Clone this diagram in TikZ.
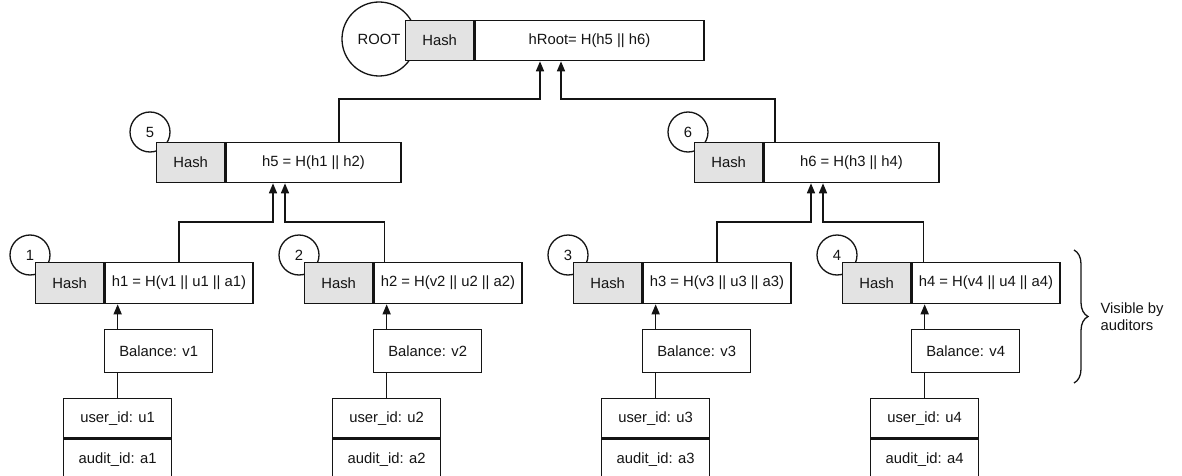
\documentclass[tikz,border=0pt]{standalone}
\usepackage{fontspec}
\setmainfont{Liberation Sans}
\usetikzlibrary{arrows.meta,decorations.pathreplacing}
\definecolor{lc}{HTML}{141414}
\definecolor{hashgray}{HTML}{E3E3E3}
\begin{document}
\begin{tikzpicture}[x=1pt,y=-1pt,
  every node/.style={font=\fontsize{14.8pt}{17pt}\selectfont, text=lc},
  box/.style={draw=lc, line width=1.3pt, fill=white, inner sep=0pt, minimum height=40pt, anchor=north west},
  hashbox/.style={box, fill=hashgray, minimum width=68pt},
  circ/.style={circle, draw=lc, fill=white, line width=1.3pt, minimum size=40pt, inner sep=0pt},
  arr/.style={draw=lc, line width=1.5pt, -{Triangle[width=8pt,length=10pt]}},
  conn/.style={draw=lc, line width=1.5pt},
  brc/.style={draw=lc, line width=1.3pt, decorate, decoration={brace, amplitude=14pt}}]
\useasboundingbox (0,0) rectangle (1182,476);
% root
\node[circ, minimum size=74pt] (rc) at (379,39) {ROOT};
\node[hashbox] (rh) at (405,20) {Hash};
\node[box, minimum width=229pt] (rm) at (rh.north east) {hRoot= H(h5 || h6)};
% level 2
\node[circ] (c5) at (150,132) {5};
\node[hashbox] (h5) at (156,142) {Hash};
\node[box, minimum width=175pt] (n5m) at (h5.north east) {h5 = H(h1 || h2)};
\node[circ] (c6) at (688,132) {6};
\node[hashbox] (h6) at (694,142) {Hash};
\node[box, minimum width=175pt] (n6m) at (h6.north east) {h6 = H(h3 || h4)};
% leaves
\foreach \i/\L in {1/35,2/304,3/573,4/842}{
  \node[circ] (c\i) at (\L-5,255) {\i};
  \node[hashbox, minimum height=41pt] (h\i) at (\L,262) {Hash};
  \node[box, minimum width=148pt, minimum height=41pt] (m\i) at (h\i.north east) {h\i{} = H(v\i{} || u\i{} || a\i)};
  \node[box, minimum width=108pt, minimum height=43pt] (b\i) at (\L+69,329) {Balance: v\i};
  \node[box, minimum width=108pt, minimum height=39pt] (u\i) at (\L+28,398) {user\_id: u\i};
  \node[box, minimum width=108pt, minimum height=42pt] (a\i) at (u\i.south west) {audit\_id: a\i};
  \draw[conn] (u\i.north) -- (u\i.north |- b\i.south);
  \draw[arr] (u\i.north |- b\i.north) -- (u\i.north |- m\i.south);
}
% connectors
\draw[arr] (m1.north) -- ++(0,-40) -| (273,0 |- n5m.south);
\draw[arr] ([xshift=11pt]m2.north west) -- ++(0,-40) -| (285,0 |- n5m.south);
\draw[arr] (m3.north) -- ++(0,-40) -| (811,0 |- n6m.south);
\draw[arr] ([xshift=12pt]m4.north west) -- ++(0,-40) -| (823,0 |- n6m.south);
\draw[arr] (339,0 |- n5m.north) -- ++(0,-43) -| (540,0 |- rm.south);
\draw[arr] (775,0 |- n6m.north) -- ++(0,-43) -| (561,0 |- rm.south);
% brace
\coordinate (bt) at (1074,250);
\coordinate (bb) at (1074,383);
\draw[brc] (bt) -- (bb);
\node[anchor=west, align=left] (vis) at (1097,317) {Visible by\\auditors};
\end{tikzpicture}
\end{document}
